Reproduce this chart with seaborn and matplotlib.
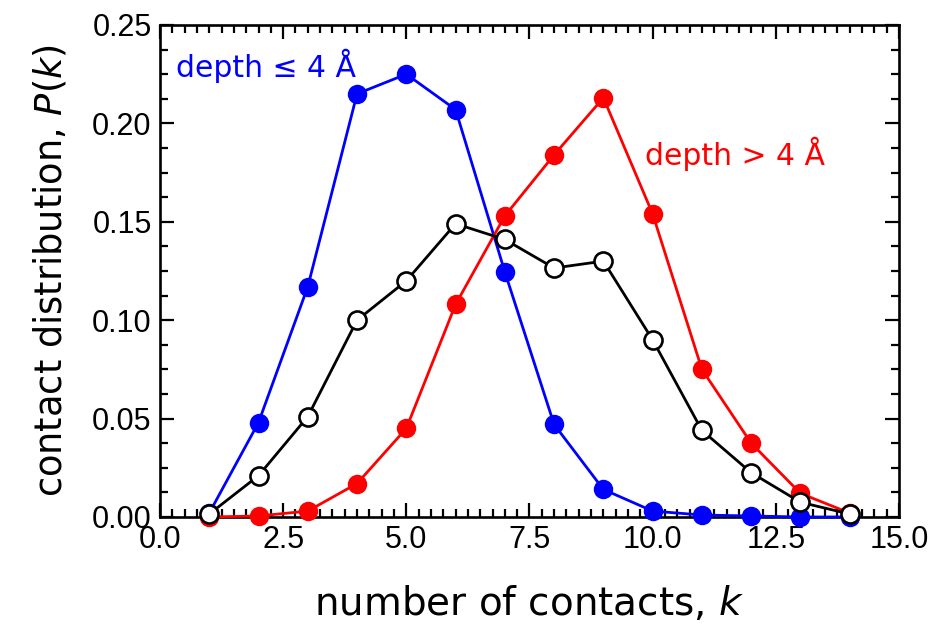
import numpy as np
import pandas as pd
import matplotlib
matplotlib.use("Agg")
import matplotlib.pyplot as plt
from matplotlib.ticker import MultipleLocator, FormatStrFormatter
import seaborn as sns

# data
k = [1, 2, 3, 4, 5, 6, 7, 8, 9, 10, 11, 12, 13, 14]
p_shallow = [0.002, 0.048, 0.117, 0.215, 0.225, 0.207, 0.1245, 0.047, 0.014, 0.003, 0.001, 0.0005, 0.0, 0.0]
p_deep = [0.0, 0.0005, 0.003, 0.017, 0.045, 0.108, 0.153, 0.184, 0.213, 0.154, 0.075, 0.0375, 0.012, 0.002]
p_all = [0.0015, 0.021, 0.051, 0.100, 0.120, 0.149, 0.141, 0.1265, 0.130, 0.090, 0.044, 0.0225, 0.0075, 0.0015]

df = pd.DataFrame({"k": k, "shallow": p_shallow, "deep": p_deep, "all": p_all})

sns.set_style("ticks")
plt.rcParams["font.family"] = ["DejaVu Sans"]
plt.rcParams["axes.linewidth"] = 1.9
plt.rcParams["axes.edgecolor"] = "black"
plt.rcParams["axes.labelcolor"] = "black"
plt.rcParams["text.color"] = "black"
plt.rcParams["xtick.color"] = "black"
plt.rcParams["ytick.color"] = "black"

fig = plt.figure(figsize=(9.45, 6.24), dpi=100)
ax = fig.add_axes([0.1693, 0.1715, 0.7820, 0.7885])

sns.lineplot(data=df, x="k", y="shallow", ax=ax, color="#0000ff", linewidth=2.0,
             marker="o", markersize=14, markeredgecolor="#0000ff", markeredgewidth=0,
             clip_on=False, zorder=3)
sns.lineplot(data=df, x="k", y="deep", ax=ax, color="#ff0000", linewidth=2.0,
             marker="o", markersize=14, markeredgecolor="#ff0000", markeredgewidth=0,
             clip_on=False, zorder=4)
sns.lineplot(data=df, x="k", y="all", ax=ax, color="black", linewidth=2.0,
             marker="o", markersize=13, markerfacecolor="white", markeredgecolor="black",
             markeredgewidth=1.9, clip_on=False, zorder=5)

ax.set_xlim(0, 15)
ax.set_ylim(0, 0.25)
ax.xaxis.set_major_locator(MultipleLocator(2.5))
ax.xaxis.set_minor_locator(MultipleLocator(0.25))
ax.yaxis.set_major_locator(MultipleLocator(0.05))
ax.yaxis.set_minor_locator(MultipleLocator(0.0125))
ax.xaxis.set_major_formatter(FormatStrFormatter("%.1f"))
ax.yaxis.set_major_formatter(FormatStrFormatter("%.2f"))
ax.tick_params(which="both", direction="in", top=True, right=True, width=1.6)
ax.tick_params(which="major", length=10, pad=6)
ax.tick_params(which="minor", length=5.5)
for lab in ax.get_xticklabels() + ax.get_yticklabels():
    lab.set_fontfamily("Liberation Sans")
    lab.set_fontsize(22)

ax.set_xlabel("number of contacts, $k$", fontsize=28, labelpad=21)
ax.set_ylabel("contact distribution, $P$($k$)", fontsize=26.5, labelpad=16)

ax.text(0.32, 0.2236, "depth ≤ 4 Å", color="#0000ff", fontsize=21.5, va="baseline")
ax.text(9.84, 0.1789, "depth > 4 Å", color="#ff0000", fontsize=21.5, va="baseline")

fig.savefig("out.png", dpi=100)
